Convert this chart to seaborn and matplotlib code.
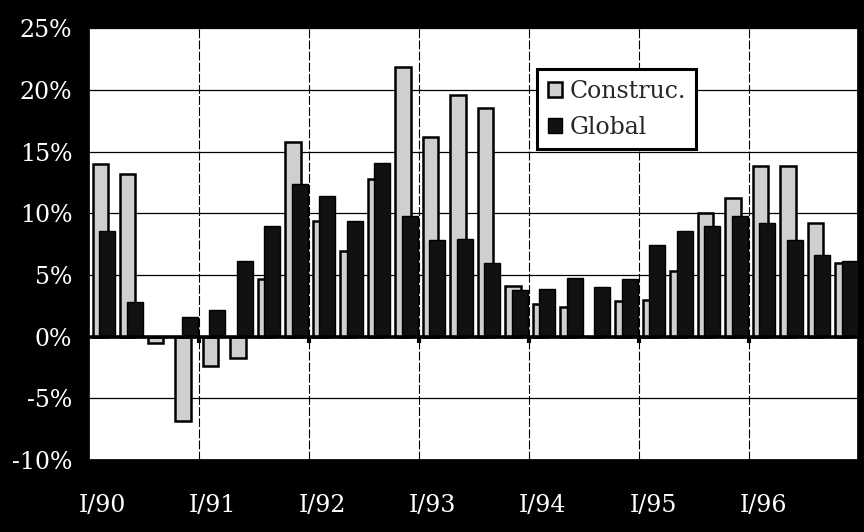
import numpy as np
import seaborn as sns
import matplotlib.pyplot as plt

# quarterly growth rates, I/90 .. IV/96
years = ["90", "91", "92", "93", "94", "95", "96"]
quarters = [f"{q}/{y}" for y in years for q in ["I", "II", "III", "IV"]]
construc = [14.0, 13.2, -0.5, -6.8, -2.4, -1.7, 4.65, 15.8,
            9.35, 6.95, 12.8, 21.85, 16.2, 19.6, 18.5, 4.15,
            2.65, 2.4, 0.0, 2.9, 3.0, 5.3, 10.0, 11.25,
            13.8, 13.8, 9.2, 6.0]
global_ = [8.6, 2.8, 0.0, 1.6, 2.2, 6.1, 9.0, 12.4,
           11.4, 9.4, 14.1, 9.8, 7.85, 7.9, 6.0, 3.8,
           3.9, 4.8, 4.05, 4.7, 7.4, 8.55, 8.95, 9.8,
           9.25, 7.8, 6.65, 6.1]
y_ticks = [-10, -5, 0, 5, 10, 15, 20, 25]

sns.set_theme(style="white")
plt.rcParams["font.family"] = ["DejaVu Serif"]

fig, ax = plt.subplots(figsize=(8.64, 5.32), dpi=100)
fig.patch.set_facecolor("black")
ax.set_facecolor("white")
fig.subplots_adjust(left=0.103, right=0.993, top=0.947, bottom=0.135)

pos = np.arange(len(quarters))

# overlapping bars: Construc. behind, Global in front
sns.barplot(x=pos - 0.09, y=construc, native_scale=True, width=0.56,
            color="#cfcfcf", saturation=1, edgecolor="black", linewidth=1.8,
            label="Construc.", ax=ax, zorder=3)
sns.barplot(x=pos + 0.16, y=global_, native_scale=True, width=0.58,
            color="#111111", saturation=1, edgecolor="black", linewidth=1.0,
            label="Global", ax=ax, zorder=4)

ax.set_xlim(-0.5, 27.45)
ax.set_ylim(-10, 25)

# gridlines
ax.set_yticks(y_ticks)
ax.set_yticklabels([f"{v}%" for v in y_ticks])
for v in y_ticks:
    ax.axhline(v, color="black", lw=0.9, zorder=1)
bounds = np.arange(3.5, 27, 4)
for b in bounds:
    ax.axvline(b, color="black", lw=0.8, ls=(0, (8, 2)), zorder=1)
ax.axhline(0, color="black", lw=2.6, zorder=5)
ax.vlines(bounds, -0.5, 0, color="black", lw=3, zorder=5)

ax.set_xticks(pos[::4])
ax.set_xticklabels(quarters[::4])

ax.tick_params(axis="y", colors="white", labelsize=17, length=0, pad=12)
ax.tick_params(axis="x", colors="white", labelsize=17, length=0, pad=24)
for lab in ax.get_xticklabels() + ax.get_yticklabels():
    lab.set_color("white")
for sp in ax.spines.values():
    sp.set_color("black")

ax.set_xlabel("")
ax.set_ylabel("")

leg = ax.legend(loc="upper left", bbox_to_anchor=(0.583, 0.905), borderaxespad=0,
                fontsize=17, frameon=True, fancybox=False, framealpha=1,
                edgecolor="black", handlelength=0.6, handleheight=0.6,
                handletextpad=0.3, labelspacing=0.55, borderpad=0.45)
leg.get_frame().set_linewidth(2.2)
leg.set_zorder(10)

plt.savefig("out.png", dpi=100, facecolor="black")
plt.close()
